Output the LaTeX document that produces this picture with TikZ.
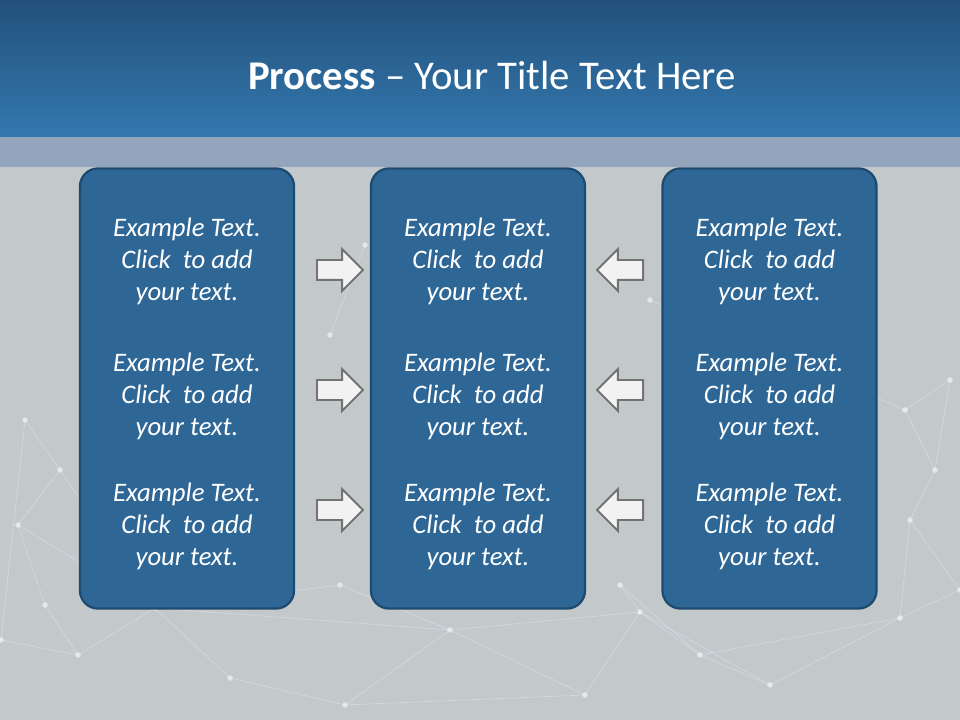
\documentclass[tikz,border=0pt]{standalone}
\usepackage{fontspec}
\setmainfont{Carlito}
\usepackage{xcolor}
\usetikzlibrary{shapes.arrows,positioning}
\definecolor{bandtop}{HTML}{22517B}
\definecolor{bandbot}{HTML}{3478AF}
\definecolor{stripe}{HTML}{93A5BD}
\definecolor{slidebg}{HTML}{C3C8CB}
\definecolor{boxfill}{HTML}{2E6796}
\definecolor{boxedge}{HTML}{1E4A70}
\definecolor{arrowedge}{HTML}{737373}
\definecolor{arrowfill}{HTML}{F2F2F2}
\definecolor{netcol}{HTML}{E2ECF8}
\tikzset{
  colbox/.style={draw=boxedge, line width=1.6pt, fill=boxfill, rounded corners=0.45cm,
                 minimum width=5.35cm, minimum height=11.0cm},
  boxtext/.style={text=white, font=\fontsize{19}{22.7}\selectfont\itshape, align=center},
  flowarrow/.style={single arrow, draw=arrowedge, fill=arrowfill, line width=1.4pt,
                    inner xsep=0pt, inner ysep=0.225cm, minimum height=1.15cm,
                    single arrow head extend=0.27cm},
  netline/.style={netcol, opacity=0.45, line width=0.5pt},
  netdot/.style={fill=white, opacity=0.55}
}
\begin{document}
\begin{tikzpicture}[x=0.025cm, y=-0.025cm]
    \useasboundingbox (0,0) rectangle (960,720);

    % Background and title band
    \fill[slidebg] (0,0) rectangle (960,720);
    \shade[top color=bandtop, bottom color=bandbot] (0,0) rectangle (960,137);
    \fill[stripe] (0,137) rectangle (960,167);
    \node[text=white, font=\fontsize{29}{33}\selectfont] (title) at (492,75)
      {\textbf{Process} – Your Title Text Here};

    % Network in the background
    \foreach \n/\x/\y in {1/25/420, 2/60/470, 3/18/525, 4/45/605, 5/78/655, 6/155/608,
                          7/230/678, 8/345/705, 9/450/630, 10/585/695, 11/640/612,
                          12/770/685, 13/900/618, 14/905/410, 15/935/470, 16/950/380,
                          17/910/520, 18/330/335, 19/340/585, 20/620/585, 21/650/300,
                          22/365/245, 23/1/640, 24/700/655, 25/960/590}
      \coordinate (n\n) at (\x,\y);
    \foreach \a/\b in {1/2, 2/3, 3/4, 4/5, 5/6, 6/7, 7/8, 8/9, 6/9, 9/10, 9/11, 10/11,
                       11/12, 12/13, 13/17, 17/15, 15/14, 14/16, 15/16, 17/25, 13/25,
                       11/24, 24/12, 19/9, 19/6, 20/11, 20/24, 18/22, 21/14, 1/23,
                       23/5, 2/6, 3/6, 8/10, 13/24}
      \draw[netline] (n\a) -- (n\b);
    \foreach \n in {1,...,25}
      \fill[netdot] (n\n) circle (2.8);

    % Columns
    \def\yC{388.5}
    \foreach \c/\x in {A/187, B/478, C/769.5}{
      \node[colbox] (col\c) at (\x,\yC) {};
      \node[boxtext] (txt\c1) at (\x,261) {Example Text.\\Click\ \ to add\\your text.};
      \node[boxtext] (txt\c2) at (\x,396) {Example Text.\\Click\ \ to add\\your text.};
      \node[boxtext] (txt\c3) at (\x,526) {Example Text.\\Click\ \ to add\\your text.};
    }

    % Arrows into the middle column
    \foreach \r/\y in {1/270, 2/390, 3/510}{
      \node[flowarrow] (arrAB\r) at (335,\y) {};
      \node[flowarrow, shape border rotate=180] (arrCB\r) at (625,\y) {};
    }
  \end{tikzpicture}
\end{document}
